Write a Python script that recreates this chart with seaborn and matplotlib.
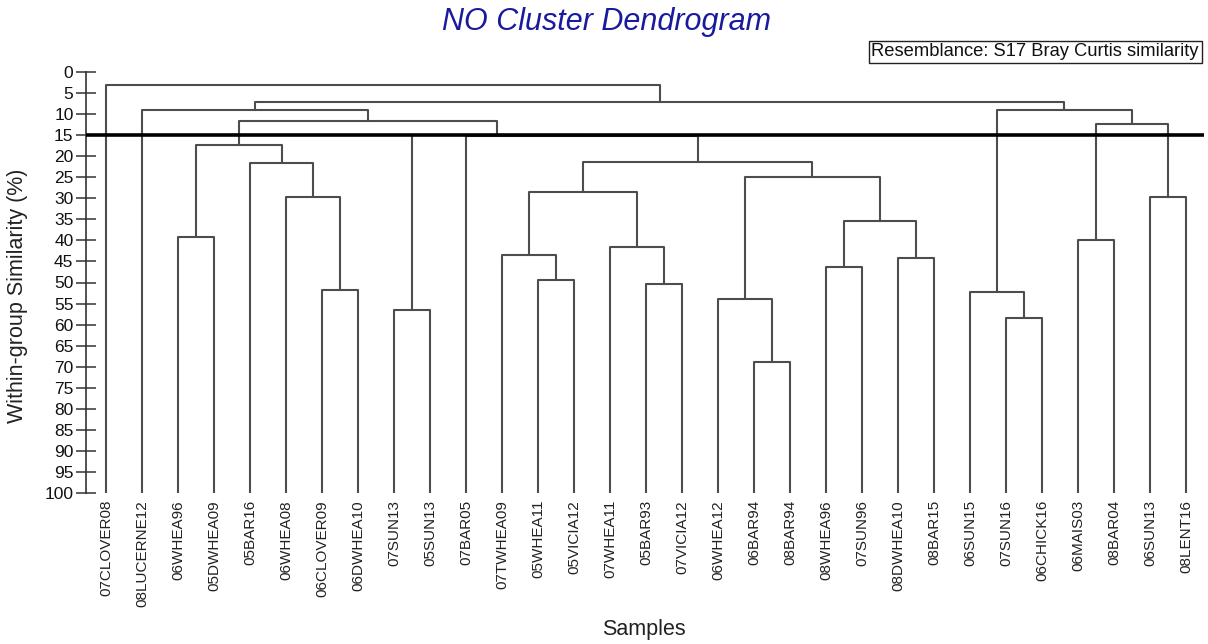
import matplotlib
matplotlib.use("Agg")
import matplotlib.pyplot as plt
import seaborn as sns
import pandas as pd

# ---------------- data ----------------
leaves = ["07CLOVER08", "08LUCERNE12", "06WHEA96", "05DWHEA09", "05BAR16",
          "06WHEA08", "06CLOVER09", "06DWHEA10", "07SUN13", "05SUN13",
          "07BAR05", "07TWHEA09", "05WHEA11", "05VICIA12", "07WHEA11",
          "05BAR93", "07VICIA12", "06WHEA12", "06BAR94", "08BAR94",
          "08WHEA96", "07SUN96", "08DWHEA10", "08BAR15", "06SUN15",
          "07SUN16", "06CHICK16", "06MAIS03", "08BAR04", "06SUN13", "08LENT16"]

# merges: node ids 0..30 are leaves, 31.. are merged clusters (in order)
merge_left = [6, 2, 8, 5, 4, 32, 12, 11, 15, 14, 38, 18, 17, 20, 22, 44,
              43, 41, 10, 33, 36, 1, 25, 24, 27, 29, 55, 54, 52, 0]
merge_right = [7, 3, 9, 31, 34, 35, 13, 37, 16, 39, 40, 19, 42, 21, 23, 45,
               46, 47, 48, 49, 50, 51, 26, 53, 28, 30, 56, 57, 58, 59]
merge_similarity = [51.7, 39.2, 56.5, 29.8, 21.6, 17.3, 49.4, 43.5, 50.4, 41.5,
                    28.5, 68.9, 53.9, 46.3, 44.2, 35.4, 24.9, 21.4, 15.25, 15.0,
                    11.7, 9.0, 58.4, 52.3, 39.9, 29.7, 12.4, 9.0, 7.1, 3.1]

cut_level = 15
y_ticks = list(range(0, 101, 5))

# ---------------- build segments ----------------
n = len(leaves)
pos_x = {i: float(i) for i in range(n)}
pos_y = {i: 100.0 for i in range(n)}
rows = []
seg = 0
for k, (a, b, h) in enumerate(zip(merge_left, merge_right, merge_similarity)):
    node = n + k
    pts = [(pos_x[a], pos_y[a]), (pos_x[a], h), (pos_x[b], h), (pos_x[b], pos_y[b])]
    for order, (x, y) in enumerate(pts):
        rows.append({"seg": seg, "order": order, "x": x, "y": y})
    seg += 1
    pos_x[node] = (pos_x[a] + pos_x[b]) / 2
    pos_y[node] = h
df = pd.DataFrame(rows)

# ---------------- plot ----------------
sns.set_style("white")
plt.rcParams["font.family"] = ["Liberation Sans", "DejaVu Sans"]

W, H = 1208, 644
fig = plt.figure(figsize=(W / 100, H / 100), dpi=100)
left_px, right_px, top_px, bot_px = 86, 1204, 72, 493
ax = fig.add_axes([left_px / W, 1 - bot_px / H,
                   (right_px - left_px) / W, (bot_px - top_px) / H])

sns.lineplot(data=df, x="x", y="y", units="seg", estimator=None, sort=False,
             color="#4d4d4d", linewidth=1.5, ax=ax, legend=False)

ax.axhline(cut_level, color="black", linewidth=2.6, xmin=0, xmax=1, zorder=5)

leaf_px0, leaf_step = 106, 36.0
ax.set_xlim((left_px - leaf_px0) / leaf_step, (right_px - leaf_px0) / leaf_step)
ax.set_ylim(100, 0)

ax.set_yticks(y_ticks)
ax.set_yticklabels([str(t) for t in y_ticks], fontsize=12.5, color="#111111")
ax.tick_params(axis="y", direction="inout", length=14, width=1.1,
               color="#333333", pad=2, left=True)

ax.set_xticks(range(n))
ax.set_xticklabels(leaves, rotation=90, fontsize=11, color="#222222")
ax.tick_params(axis="x", length=0, pad=5)

for s in ["top", "right", "bottom"]:
    ax.spines[s].set_visible(False)
ax.spines["left"].set_color("#333333")
ax.spines["left"].set_linewidth(1.2)

ax.set_xlabel("")
ax.set_ylabel("")

fig.text(18 / W, 1 - 296 / H, "Within-group Similarity (%)", rotation=90,
         ha="center", va="center", fontsize=15.5, color="#222222")
fig.text(644 / W, 1 - 630 / H, "Samples", ha="center", va="center",
         fontsize=15.5, color="#222222")
fig.text(606 / W, 1 - 22 / H, "NO Cluster Dendrogram", ha="center", va="center",
         fontsize=22, style="italic", color="#1a1a9c")
fig.text(1035 / W, 1 - 52 / H, "Resemblance: S17 Bray Curtis similarity",
         ha="center", va="center", fontsize=13.2, color="#111111",
         bbox=dict(boxstyle="square,pad=0.15", facecolor="white",
                   edgecolor="#222222", linewidth=1.0))

fig.savefig("out.png", dpi=100, facecolor="white")
